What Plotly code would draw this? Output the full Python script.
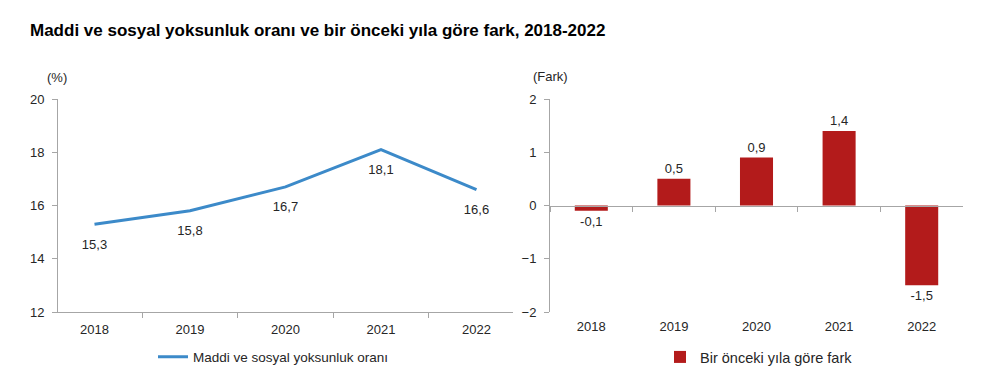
import plotly.graph_objects as go

years = ["2018", "2019", "2020", "2021", "2022"]
rate = [15.3, 15.8, 16.7, 18.1, 16.6]
rate_labels = ["15,3", "15,8", "16,7", "18,1", "16,6"]
diff = [-0.1, 0.5, 0.9, 1.4, -1.5]
diff_labels = ["-0,1", "0,5", "0,9", "1,4", "-1,5"]
left_yticks = [12, 14, 16, 18, 20]
right_yticks = [-2, -1, 0, 1, 2]

title = "Maddi ve sosyal yoksunluk oranı ve bir önceki yıla göre fark, 2018-2022"
line_name = "Maddi ve sosyal yoksunluk oranı"
bar_name = "Bir önceki yıla göre fark"

FONT = "Liberation Sans, Arial, sans-serif"
TXT = "#262626"
AX = "#A6A6A6"
W, H, OFF = 1000, 391, 8


def px(x):
    return (x - OFF) / W


def py(y):
    return 1 - (y - OFF) / H


fig = go.Figure()
fig.add_trace(go.Scatter(
    x=years, y=rate, mode="lines+markers+text", name=line_name,
    line=dict(color="#3C8AC9", width=3),
    marker=dict(size=22, color="rgba(0,0,0,0)"),
    text=rate_labels, textposition="bottom center",
    textfont=dict(size=13, color=TXT, family=FONT),
    xaxis="x", yaxis="y", legend="legend", cliponaxis=False,
))
fig.add_trace(go.Bar(
    x=years, y=diff, name=bar_name,
    marker=dict(color="#B31B1B", line=dict(width=0)),
    text=diff_labels, textposition="outside",
    textfont=dict(size=13, color=TXT, family=FONT),
    xaxis="x2", yaxis="y2", legend="legend2", cliponaxis=False, width=0.4,
))

y_dom = [py(312), py(99)]
fig.update_layout(
    width=W, height=H,
    margin=dict(l=0, r=0, t=0, b=0, autoexpand=False),
    paper_bgcolor="white", plot_bgcolor="white",
    font=dict(family=FONT, size=13, color=TXT),
    title=dict(text="<b>" + title + "</b>", x=px(30), xanchor="left", y=py(30), yanchor="middle",
               pad=dict(l=0, r=0, t=0, b=0),
               font=dict(size=17, color="#000000", family=FONT)),
    xaxis=dict(domain=[px(58), px(513)], anchor="y", type="category",
               showline=True, linecolor=AX, linewidth=1, ticks="outside", tickson="boundaries",
               ticklen=5, tickcolor=AX, showgrid=False, ticklabelstandoff=5,
               tickfont=dict(size=13, color=TXT)),
    yaxis=dict(domain=y_dom, anchor="x", range=[12, 20], tickvals=left_yticks,
               showline=True, linecolor=AX, linewidth=1, ticks="outside", ticklen=5,
               tickcolor=AX, showgrid=False, zeroline=False, ticklabelstandoff=5,
               tickfont=dict(size=13, color=TXT)),
    xaxis2=dict(domain=[px(550), px(963)], anchor="free", position=(y_dom[0] + y_dom[1]) / 2,
                type="category", showline=True, linecolor=AX, linewidth=1, ticks="outside",
                tickson="boundaries", ticklen=5, tickcolor=AX, showgrid=False,
                ticklabelstandoff=109, tickfont=dict(size=13, color=TXT)),
    yaxis2=dict(domain=y_dom, anchor="x2", range=[-2, 2], tickvals=right_yticks,
                showline=True, linecolor=AX, linewidth=1, ticks="outside", ticklen=5,
                tickcolor=AX, showgrid=False, zeroline=False, ticklabelstandoff=5,
                tickfont=dict(size=13, color=TXT)),
    legend=dict(x=0.145, y=py(357), xanchor="left", yanchor="middle", orientation="h",
                font=dict(size=13.5, color=TXT, family=FONT), bgcolor="rgba(0,0,0,0)"),
    legend2=dict(x=0.652, y=py(357), xanchor="left", yanchor="middle", orientation="h",
                 font=dict(size=14.5, color=TXT, family=FONT), bgcolor="rgba(0,0,0,0)"),
    showlegend=True,
    annotations=[
        dict(text="(%)", x=px(45), y=py(77), xref="paper", yref="paper", showarrow=False,
             xanchor="left", yanchor="middle", font=dict(size=13, color=TXT, family=FONT)),
        dict(text="(Fark)", x=px(531), y=py(76), xref="paper", yref="paper", showarrow=False,
             xanchor="left", yanchor="middle", font=dict(size=13, color=TXT, family=FONT)),
    ],
)

fig.write_html("out.html")
